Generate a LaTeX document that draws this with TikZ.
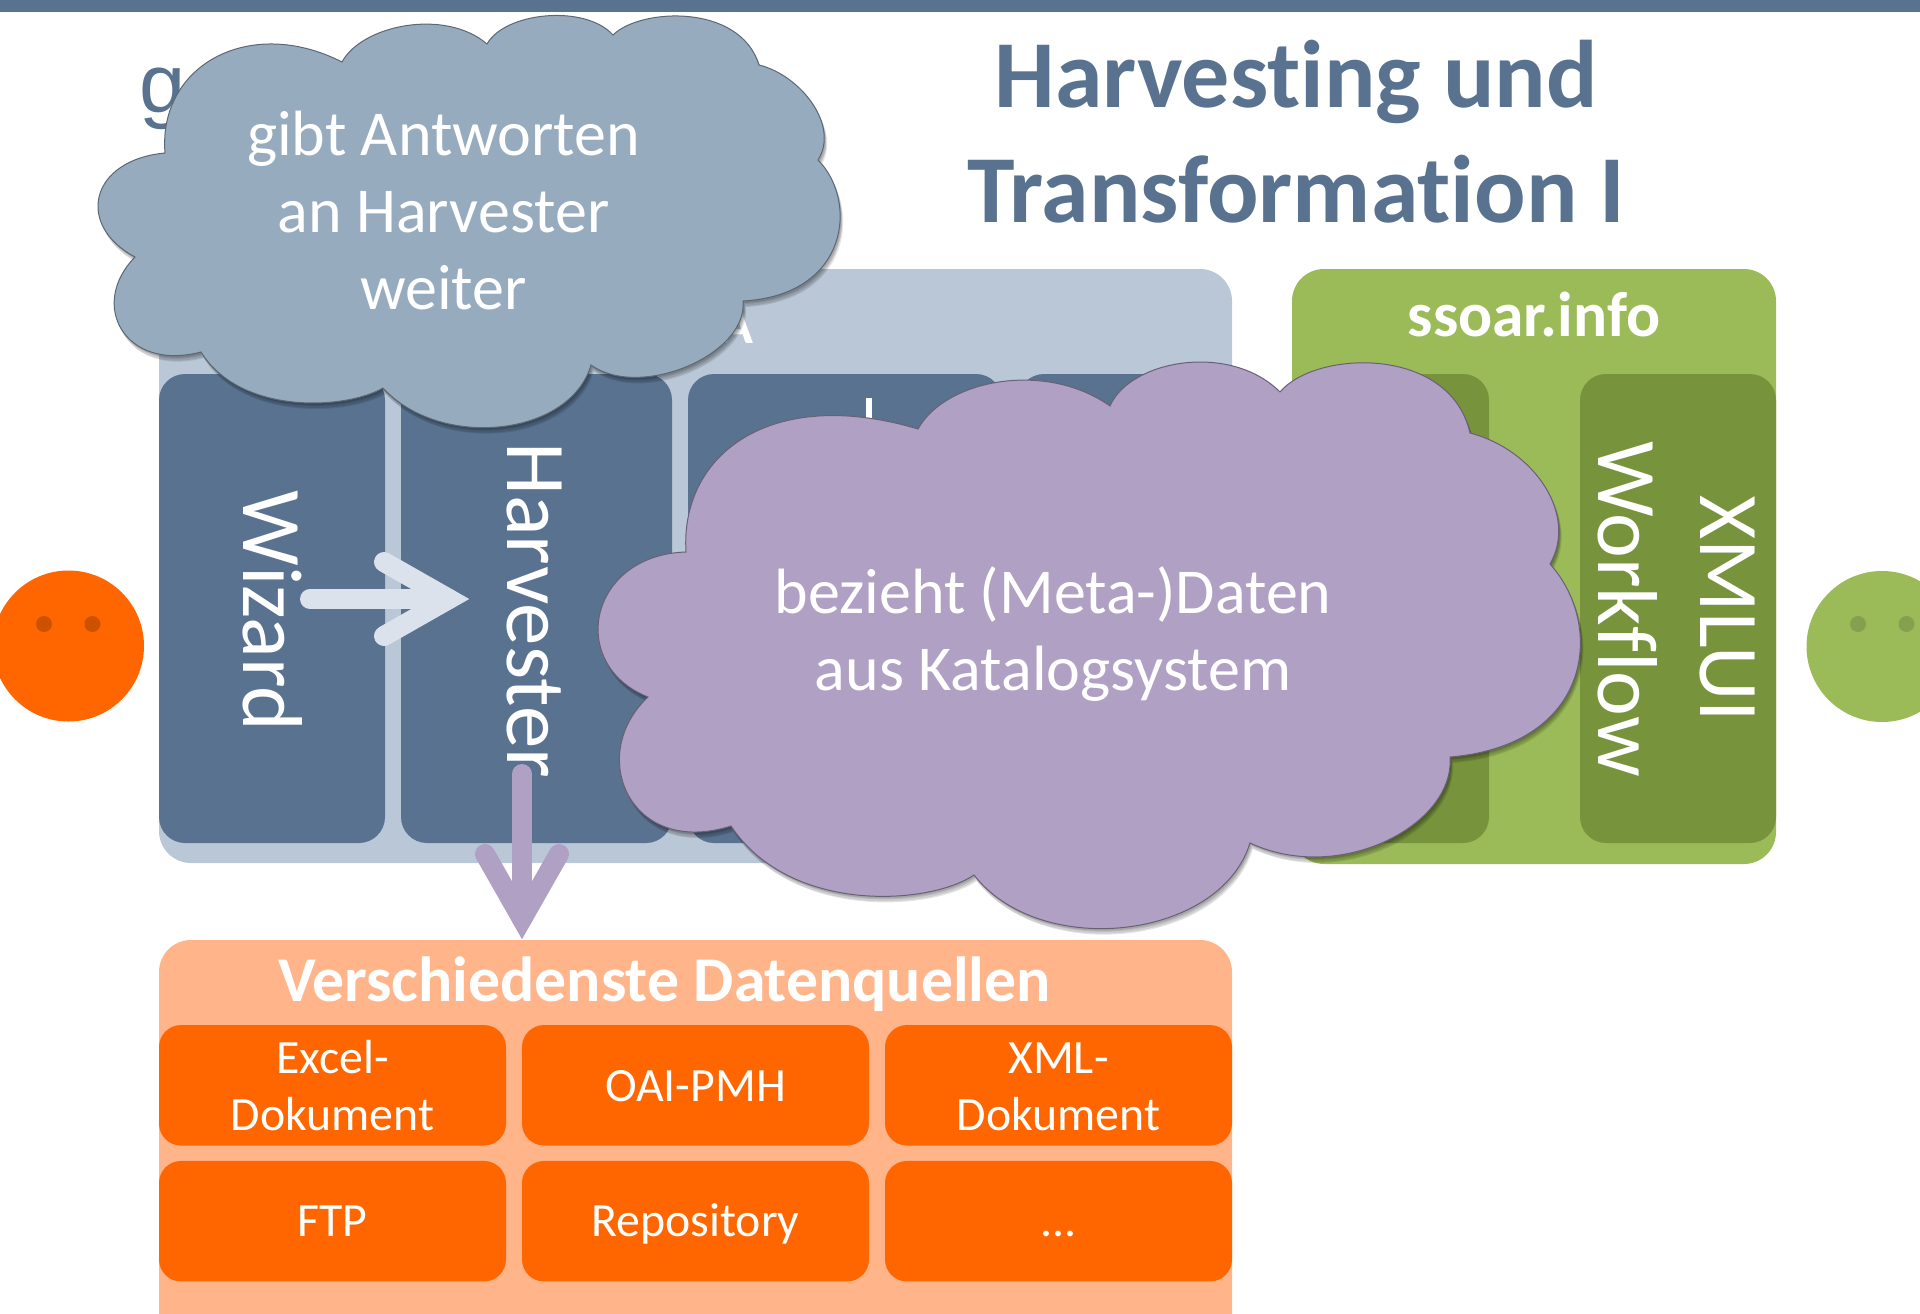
\documentclass[tikz,border=0pt]{standalone}
\usepackage{fontspec}
\setmainfont{Carlito}[Ligatures=NoCommon]
\newfontfamily\gfont{Liberation Sans}
\definecolor{bar}{HTML}{587290}
\definecolor{panelblue}{HTML}{B9C7D6}
\definecolor{cloudblue}{HTML}{97ABBF}
\definecolor{cloudpurple}{HTML}{B0A0C4}
\definecolor{arrowlight}{HTML}{DCE2EB}
\definecolor{leaf}{HTML}{9BBB59}
\definecolor{leafdark}{HTML}{77933C}
\definecolor{leafeye}{HTML}{85A04E}
\definecolor{orng}{HTML}{FF6600}
\definecolor{orngeye}{HTML}{CC5200}
\definecolor{orngpale}{HTML}{FFB48A}
\tikzset{
  panelbox/.style={rounded corners=32pt},
  innerbox/.style={rounded corners=26pt},
  sidetext/.style={text=white,rotate=-90,inner sep=0pt,font=\fontsize{85}{85}\selectfont,anchor=base},
  srcbox/.style={fill=orng,rounded corners=22pt,draw=none,text=white,minimum width=347pt,minimum height=120.5pt,inner sep=0pt,align=center,font=\fontsize{47.8}{56.6}\selectfont,text height=41.4pt,text depth=10pt},
  srcboxtwo/.style={srcbox,text height=100pt,text depth=10pt},
  cloudtext/.style={text=white,inner sep=0pt,align=center,font=\fontsize{64}{77}\selectfont},
  fatarrow/.style={line width=20pt,line cap=round,miter limit=10},
  cloudshadow/.style={fill=black,opacity=.1}
}
\def\cloudA{(165,153) .. controls (158,65) and (250,15) .. (342,62)
 .. controls (362,25) and (445,8) .. (487,44)
 .. controls (505,12) and (585,4) .. (613,35)
 .. controls (640,8) and (740,3) .. (759,65)
 .. controls (800,75) and (840,125) .. (818,160)
 .. controls (858,200) and (850,295) .. (743,301)
 .. controls (748,355) and (640,400) .. (591,365)
 .. controls (570,437) and (440,450) .. (383,388)
 .. controls (345,410) and (240,415) .. (201,352)
 .. controls (125,372) and (88,305) .. (135,257)
 .. controls (75,225) and (90,160) .. (165,153) -- cycle}
\def\cloudB{(686,552) .. controls (680,455) and (770,385) .. (918,429)
 .. controls (945,380) and (1045,360) .. (1110,406)
 .. controls (1130,360) and (1230,342) .. (1280,392)
 .. controls (1315,350) and (1450,345) .. (1470,433)
 .. controls (1535,450) and (1578,515) .. (1550,564)
 .. controls (1605,625) and (1593,745) .. (1450,757)
 .. controls (1455,825) and (1340,885) .. (1250,843)
 .. controls (1220,940) and (1040,960) .. (974,875)
 .. controls (930,905) and (790,915) .. (731,826)
 .. controls (630,858) and (586,755) .. (648,697)
 .. controls (567,665) and (588,555) .. (686,552) -- cycle}
\begin{document}
\begin{tikzpicture}[x=1pt,y=-1pt]
\useasboundingbox (0,0) rectangle (1920,1314);
\clip (0,0) rectangle (1920,1314);
% top bar
\fill[bar] (0,0) rectangle (1920,12);
% title
\node[text=bar,inner sep=0pt,anchor=base,font=\bfseries\fontsize{96}{96}\selectfont] (titleA) at (1296,107) {Harvesting und};
\node[text=bar,inner sep=0pt,anchor=base,font=\bfseries\fontsize{96}{96}\selectfont] (titleB) at (1296,222) {Transformation I};
\node[text=bar,inner sep=0pt,anchor=base west,font=\gfont\fontsize{83}{83}\selectfont] (hiddenword) at (139,113) {ge};
% blue panel
\fill[panelblue,panelbox] (159,269) rectangle (1232,863);
\node[text=white,inner sep=0pt,anchor=base east,font=\bfseries\fontsize{56}{56}\selectfont] (panelhead) at (754,343) {A};
\fill[bar,innerbox] (159,374) rectangle (385,843);
\fill[bar,innerbox] (401,374) rectangle (672,843);
\fill[bar,innerbox] (688,374) rectangle (1002,843);
\fill[bar,innerbox] (1018,374) rectangle (1232,843);
\fill[white] (866,398) rectangle (872,420);
\node[sidetext] (wizard) at (243.4,611) {Wizard};
\node[sidetext] (harvester) at (507,610) {Harvester};
% green panel
\fill[leaf,panelbox] (1292,269) rectangle (1776,864);
\node[text=white,inner sep=0pt,anchor=base,font=\bfseries\fontsize{63.5}{63.5}\selectfont] (ssoar) at (1534,336) {ssoar.info};
\fill[leafdark,innerbox] (1292,374) rectangle (1489,843);
\fill[leafdark,innerbox] (1580,374) rectangle (1776,843);
\node[sidetext] (workflow) at (1598.4,609) {Workflow};
\node[sidetext] (xmlui) at (1700,609) {XMLUI};
% persons
\fill[orng] (68.5,646) circle (75.5);
\fill[orngeye] (44,624) circle (8) (92.4,624) circle (8);
\fill[leaf] (1882,646.5) circle (75.5);
\fill[leafeye] (1858,624) circle (8) (1906.5,624) circle (8);
% sources
\fill[orngpale,rounded corners=32pt] (159,940) rectangle (1232,1360);
\node[text=white,inner sep=0pt,anchor=base,font=\bfseries\fontsize{63.8}{63.8}\selectfont] (srchead) at (664.5,1001) {Verschiedenste Datenquellen};
\node[srcboxtwo] (s1) at (332.5,1085.3) {Excel-\\Dokument};
\node[srcbox] (s2) at (695.5,1085.3) {OAI-PMH};
\node[srcboxtwo] (s3) at (1058.5,1085.3) {XML-\\Dokument};
\node[srcbox] (s4) at (332.5,1221.2) {FTP};
\node[srcbox] (s5) at (695.5,1221.2) {Repository};
\node[srcbox] (s6) at (1058.5,1221.2) {...};
% arrows
\coordinate (lightstart) at (310,599);
\coordinate (lighttip) at (449,599);
\coordinate (lightup) at (384,562);
\coordinate (lightdown) at (384,636);
\draw[arrowlight,fatarrow] (lightstart) -- (lighttip);
\draw[arrowlight,fatarrow] (lightup) -- (lighttip) -- (lightdown);
\coordinate (purplestart) at (522,774);
\coordinate (purpletip) at (522,919);
\coordinate (purpleleft) at (485,854);
\coordinate (purpleright) at (559,854);
\draw[cloudpurple,fatarrow] (purplestart) -- (purpletip);
\draw[cloudpurple,fatarrow] (purpleleft) -- (purpletip) -- (purpleright);
% clouds
\fill[cloudshadow,shift={(1,2)}] \cloudA;
\fill[cloudshadow,shift={(2,3)}] \cloudA;
\fill[cloudshadow,shift={(2,5)}] \cloudA;
\fill[cloudshadow,shift={(3,6)}] \cloudA;
\filldraw[fill=cloudblue,draw=black!40!cloudblue,line width=1pt] \cloudA;
\node[cloudtext] (ctA) at (443.5,211) {gibt Antworten\\an Harvester\\weiter};
\fill[cloudshadow,shift={(1,2)}] \cloudB;
\fill[cloudshadow,shift={(2,3)}] \cloudB;
\fill[cloudshadow,shift={(2,5)}] \cloudB;
\fill[cloudshadow,shift={(3,6)}] \cloudB;
\filldraw[fill=cloudpurple,draw=black!40!cloudpurple,line width=1pt] \cloudB;
\node[cloudtext] (ctB) at (1053,634.5) {bezieht (Meta-)Daten\\aus Katalogsystem};
\end{tikzpicture}
\end{document}
